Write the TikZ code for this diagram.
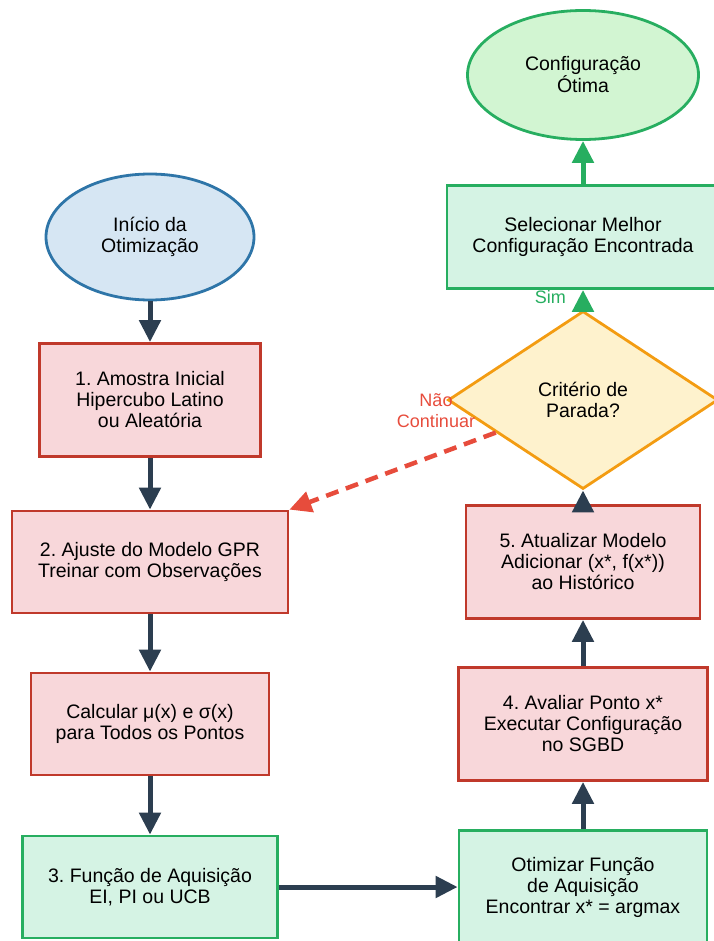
\documentclass[tikz,border=0pt]{standalone}
\usepackage{fontspec}
\setmainfont{Liberation Sans}
\usetikzlibrary{shapes.geometric, arrows.meta}
\definecolor{flowdark}{HTML}{2C3E50}
\definecolor{startline}{HTML}{2E75A8}
\definecolor{startfill}{HTML}{D6E6F3}
\definecolor{stepline}{HTML}{C0392B}
\definecolor{stepfill}{HTML}{F8D7DA}
\definecolor{acqline}{HTML}{27AE60}
\definecolor{acqfill}{HTML}{D5F3E4}
\definecolor{endfill}{HTML}{D2F5D2}
\definecolor{critline}{HTML}{F39C12}
\definecolor{critfill}{HTML}{FEF2CD}
\definecolor{backred}{HTML}{E74C3C}
\frenchspacing

\begin{document}
\begin{tikzpicture}[x=1pt, y=-1pt,
    txt/.style={font=\fontsize{19.5}{21}\selectfont, align=center, text=black, inner sep=0pt},
    stepbox/.style={txt, rectangle, draw=stepline, fill=stepfill, line width=2.8pt},
    acqbox/.style={txt, rectangle, draw=acqline, fill=acqfill, line width=2.8pt},
    flow/.style={line width=5pt, draw=flowdark, -{Triangle[length=22pt, width=21pt]}},
    lbl/.style={font=\fontsize{18}{21}\selectfont, inner sep=0pt}]
    \useasboundingbox (0,0) rectangle (713,941);
    \node[txt, ellipse, draw=startline, fill=startfill, line width=2.8pt,
          minimum width=208pt, minimum height=126pt] (inicio) at (150,237) {Início da\\Otimização};
    \node[stepbox, minimum width=221pt, minimum height=113pt] (amostra) at (150,400)
        {1. Amostra Inicial\\Hipercubo Latino\\ou Aleatória};
    \node[stepbox, minimum width=276pt, minimum height=102pt] (ajuste) at (150,562)
        {2. Ajuste do Modelo GPR\\Treinar com Observações};
    \node[stepbox, minimum width=238pt, minimum height=102pt] (calc) at (150,724)
        {Calcular μ(x) e σ(x)\\para Todos os Pontos};
    \node[acqbox, minimum width=255pt, minimum height=102pt] (aquis) at (150,887)
        {3. Função de Aquisição\\EI, PI ou UCB};
    \node[acqbox, minimum width=248pt, minimum height=113pt] (otim) at (583,887)
        {Otimizar Função\\de Aquisição\\Encontrar x* = argmax};
    \node[stepbox, minimum width=249pt, minimum height=113pt] (avaliar) at (583,724)
        {4. Avaliar Ponto x*\\Executar Configuração\\no SGBD};
    \node[stepbox, minimum width=234pt, minimum height=113pt] (atualizar) at (583,562)
        {5. Atualizar Modelo\\Adicionar (x*, f(x*))\\ao Histórico};
    \node[txt, diamond, draw=critline, fill=critfill, line width=2.8pt, aspect=1.52,
          minimum width=270pt, minimum height=178pt] (criterio) at (583,400) {Critério de\\Parada?};
    \node[acqbox, minimum width=272pt, minimum height=103pt] (melhor) at (583,237)
        {Selecionar Melhor\\Configuração Encontrada};
    \node[txt, ellipse, draw=acqline, fill=endfill, line width=2.8pt,
          minimum width=231pt, minimum height=129pt] (otima) at (583,75) {Configuração\\Ótima};
    \foreach \a/\b in {inicio/amostra, amostra/ajuste, ajuste/calc, calc/aquis,
                       aquis/otim, otim/avaliar, avaliar/atualizar, atualizar/criterio}
        \draw[flow] (\a) -- (\b);
    \draw[flow, draw=acqline, fill=acqline] (criterio) -- (melhor);
    \draw[flow, draw=acqline, fill=acqline] (melhor) -- (otima);
    \draw[line width=4.5pt, draw=backred, dash pattern=on 13pt off 8pt,
          -{Triangle[length=22pt, width=21pt]}] (criterio) -- (ajuste.north east);
    \node[lbl, text=acqline, anchor=east] (sim) at (566,297) {Sim};
    \node[lbl, text=backred, align=center] (nao) at (436,411) {Não\\Continuar};
\end{tikzpicture}
\end{document}
